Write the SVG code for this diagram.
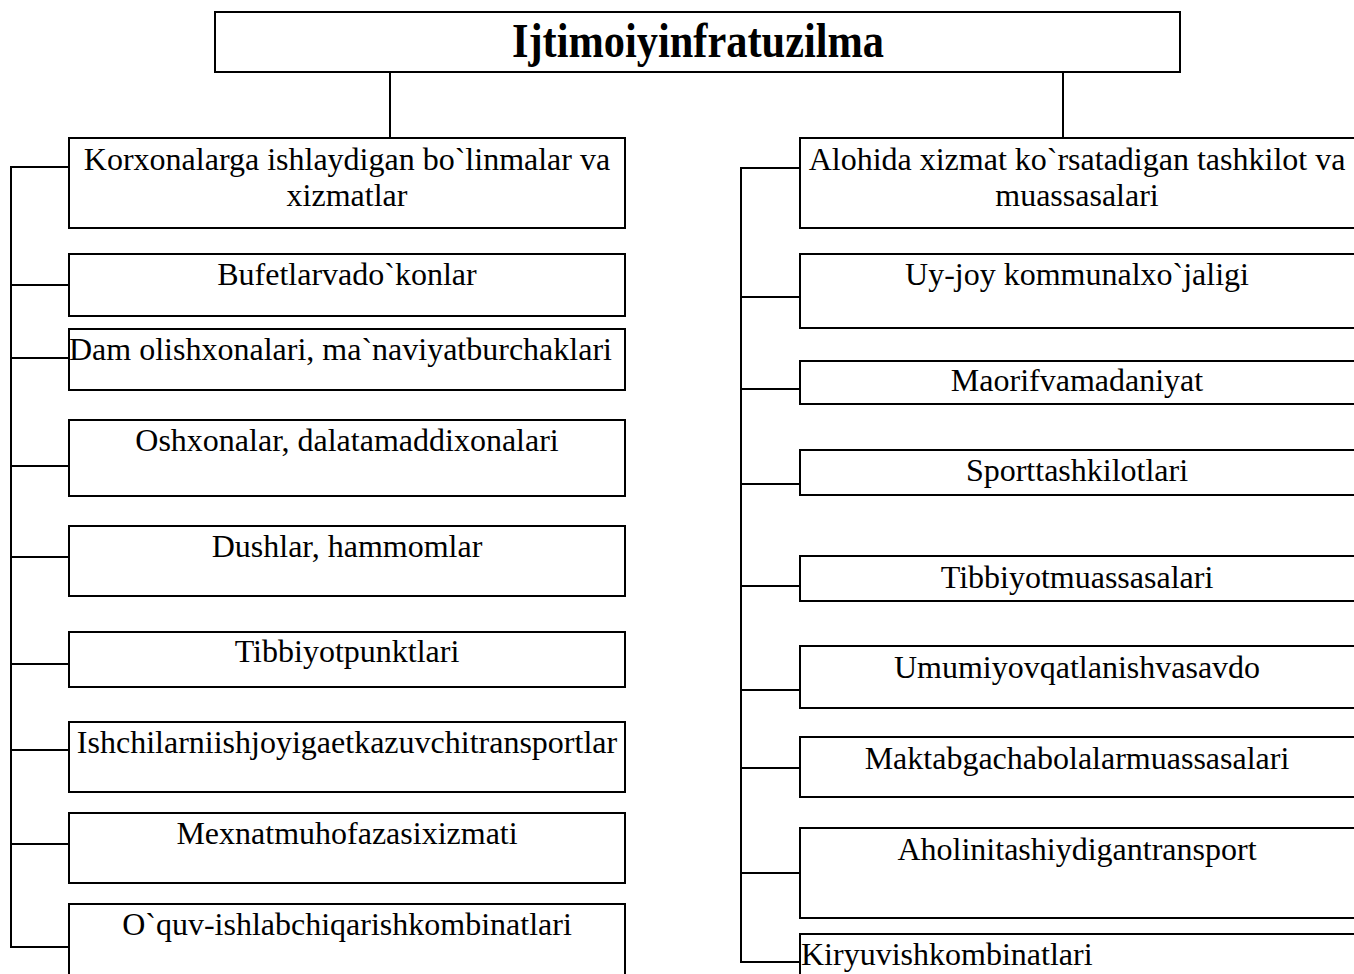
<svg xmlns="http://www.w3.org/2000/svg" width="1354" height="974" viewBox="0 0 1354 974">
<style>
.box{fill:#fff;stroke:#000;stroke-width:2}
.t{font-family:"Liberation Serif","Times New Roman",serif;font-size:32px;fill:#000;text-anchor:middle}
.tl{font-family:"Liberation Serif","Times New Roman",serif;font-size:32px;fill:#000}
.title{font-family:"Liberation Serif","Times New Roman",serif;font-size:48px;font-weight:bold;fill:#000;text-anchor:middle}
.c{stroke:#000;stroke-width:2;fill:none}
</style>
<rect width="1354" height="974" fill="#fff"/>
<g id="connectors">
<line class="c" x1="390" y1="72" x2="390" y2="138"/>
<line class="c" x1="1063" y1="72" x2="1063" y2="138"/>
<path class="c" d="M69 167H11V947H69M11 285H69M11 358H69M11 466H69M11 557H69M11 664H69M11 750H69M11 844H69"/>
<path class="c" d="M800 168H741V962H800M741 297H800M741 389H800M741 484H800M741 586H800M741 690H800M741 768H800M741 873H800"/>
</g>
<g id="root"><rect class="box" x="215" y="12" width="965" height="60"/><text class="title" x="698" y="57" textLength="372" lengthAdjust="spacingAndGlyphs">Ijtimoiyinfratuzilma</text></g>
<g id="l1"><rect class="box" x="69" y="138" width="556" height="90"/><text class="t" x="347" y="170">Korxonalarga ishlaydigan bo`linmalar va</text><text class="t" x="347" y="206">xizmatlar</text></g>
<g id="l2"><rect class="box" x="69" y="254" width="556" height="62"/><text class="t" x="347" y="285">Bufetlarvado`konlar</text></g>
<g id="l3"><rect class="box" x="69" y="329" width="556" height="61"/><text class="tl" x="69" y="360">Dam olishxonalari, ma`naviyatburchaklari</text></g>
<g id="l4"><rect class="box" x="69" y="420" width="556" height="76"/><text class="t" x="347" y="451">Oshxonalar, dalatamaddixonalari</text></g>
<g id="l5"><rect class="box" x="69" y="526" width="556" height="70"/><text class="t" x="347" y="557">Dushlar, hammomlar</text></g>
<g id="l6"><rect class="box" x="69" y="632" width="556" height="55"/><text class="t" x="347" y="662">Tibbiyotpunktlari</text></g>
<g id="l7"><rect class="box" x="69" y="722" width="556" height="70"/><text class="t" x="347" y="753">Ishchilarniishjoyigaetkazuvchitransportlar</text></g>
<g id="l8"><rect class="box" x="69" y="813" width="556" height="70"/><text class="t" x="347" y="844">Mexnatmuhofazasixizmati</text></g>
<g id="l9"><rect class="box" x="69" y="904" width="556" height="80"/><text class="t" x="347" y="935">O`quv-ishlabchiqarishkombinatlari</text></g>
<g id="r1"><rect class="box" x="800" y="138" width="570" height="90"/><text class="t" x="1077" y="170">Alohida xizmat ko`rsatadigan tashkilot va</text><text class="t" x="1077" y="206">muassasalari</text></g>
<g id="r2"><rect class="box" x="800" y="254" width="570" height="74"/><text class="t" x="1077" y="285">Uy-joy kommunalxo`jaligi</text></g>
<g id="r3"><rect class="box" x="800" y="361" width="570" height="43"/><text class="t" x="1077" y="391">Maorifvamadaniyat</text></g>
<g id="r4"><rect class="box" x="800" y="450" width="570" height="45"/><text class="t" x="1077" y="481">Sporttashkilotlari</text></g>
<g id="r5"><rect class="box" x="800" y="556" width="570" height="45"/><text class="t" x="1077" y="588">Tibbiyotmuassasalari</text></g>
<g id="r6"><rect class="box" x="800" y="646" width="570" height="62"/><text class="t" x="1077" y="678">Umumiyovqatlanishvasavdo</text></g>
<g id="r7"><rect class="box" x="800" y="737" width="570" height="60"/><text class="t" x="1077" y="769">Maktabgachabolalarmuassasalari</text></g>
<g id="r8"><rect class="box" x="800" y="828" width="570" height="90"/><text class="t" x="1077" y="860">Aholinitashiydigantransport</text></g>
<g id="r9"><rect class="box" x="800" y="934" width="570" height="60"/><text class="tl" x="801" y="965">Kiryuvishkombinatlari</text></g>
</svg>
